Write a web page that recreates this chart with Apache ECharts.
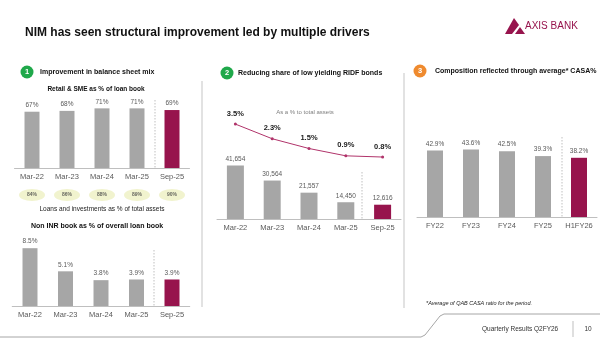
<!DOCTYPE html>
<html><head><meta charset="utf-8">
<script src="https://cdn.jsdelivr.net/npm/echarts@6/dist/echarts.min.js"></script>
<style>html,body{margin:0;padding:0;background:#fff}#c{width:600px;height:339px}</style>
</head><body><div id="c"></div>
<script>
// ---- data ----
const periods = ['Mar-22','Mar-23','Mar-24','Mar-25','Sep-25'];
const retailSme = [67, 68, 71, 71, 69];
const loansInvest = [84, 86, 88, 89, 90];
const nonInr = [8.5, 5.1, 3.8, 3.9, 3.9];
const ridfPct = [3.5, 2.3, 1.5, 0.9, 0.8];
const ridfAmt = [41654, 30564, 21557, 14450, 12616];
const casaCats = ['FY22','FY23','FY24','FY25','H1FY26'];
const casa = [42.9, 43.6, 42.5, 39.3, 38.2];

const GREY = '#a6a6a6', MAROON = '#97144d', FONT = 'Liberation Sans, Arial, sans-serif';
const lastHi = (arr) => arr.map((v, i) => ({value: v, itemStyle: {color: i === arr.length - 1 ? MAROON : GREY}}));

const chart = echarts.init(document.getElementById('c'), null, {renderer: 'canvas'});

function xAx(grid, cats, show) {
  return {type: 'category', gridIndex: grid, data: cats,
    axisLine: {show: show, lineStyle: {color: '#bfbfbf', width: 1}}, axisTick: {show: false},
    axisLabel: {show: show, color: '#595959', fontSize: 7.5, margin: 5, fontFamily: FONT}};
}
function yAx(grid, min, max) {
  return {type: 'value', gridIndex: grid, min: min, max: max, show: false, splitLine: {show: false}};
}
const barLabel = (fmt) => ({show: true, position: 'top', distance: 3, color: '#595959', fontSize: 6.5, fontFamily: FONT, formatter: fmt});
const txt = (x, y, text, font, fill, align) => ({type: 'text', x: x, y: y, style: {text: text, font: font + ' ' + FONT, fill: fill, align: align || 'left', verticalAlign: 'middle'}});
const dash = (x, y1, y2) => ({type: 'line', shape: {x1: x, y1: y1, x2: x, y2: y2}, style: {stroke: '#bfbfbf', lineWidth: 1, lineDash: [1.5, 1.5]}});

const option = {
  animation: false,
  textStyle: {fontFamily: FONT},
  grid: [
    {left: 14.5, top: 84, width: 175, height: 84},
    {left: 12.25, top: 238, width: 177.5, height: 68},
    {left: 217, top: 118, width: 184, height: 48.8},
    {left: 217, top: 149, width: 184, height: 70},
    {left: 417, top: 124, width: 180, height: 93},
    {left: 14.5, top: 189, width: 175, height: 12}
  ],
  xAxis: [
    xAx(0, periods, true), xAx(1, periods, true), xAx(2, periods, false),
    xAx(3, periods, true), xAx(4, casaCats, true), xAx(5, periods, false)
  ],
  yAxis: [
    yAx(0, 0, 100), yAx(1, 0, 10), yAx(2, 0, 4), yAx(3, 2000, 54000), yAx(4, 0, 60), yAx(5, 0, 1)
  ],
  series: [
    {type: 'bar', xAxisIndex: 0, yAxisIndex: 0, barWidth: 15, data: lastHi(retailSme), label: barLabel('{c}%')},
    {type: 'bar', xAxisIndex: 1, yAxisIndex: 1, barWidth: 15, data: lastHi(nonInr), label: barLabel(p => p.value.toFixed(1) + '%')},
    {type: 'line', xAxisIndex: 2, yAxisIndex: 2, data: ridfPct, symbol: 'circle', symbolSize: 3,
      lineStyle: {color: '#b0336a', width: 1}, itemStyle: {color: '#b0336a'},
      label: {show: true, position: 'top', distance: 5, color: '#1a1a1a', fontWeight: 'bold', fontSize: 7.5, formatter: p => p.value.toFixed(1) + '%'}},
    {type: 'bar', xAxisIndex: 3, yAxisIndex: 3, barWidth: 17, data: lastHi(ridfAmt), label: barLabel(p => p.value.toLocaleString('en-US'))},
    {type: 'bar', xAxisIndex: 4, yAxisIndex: 4, barWidth: 16, data: lastHi(casa), label: barLabel(p => p.value.toFixed(1) + '%')},
    {type: 'scatter', xAxisIndex: 5, yAxisIndex: 5, symbol: 'circle', symbolSize: [26, 12],
      itemStyle: {color: '#eef0c2'},
      data: loansInvest.map((v, i) => ({value: [periods[i], 0.5], raw: v})),
      label: {show: true, position: 'inside', color: '#404040', fontSize: 5, fontWeight: 'bold', formatter: p => p.data.raw + '%'}}
  ],
  graphic: [
    txt(25, 33, 'NIM has seen structural improvement led by multiple drivers', 'bold 12px', '#111'),
    {type: 'polygon', shape: {points: [[505,34],[514,18],[519,25],[512,34]]}, style: {fill: MAROON}},
    {type: 'polygon', shape: {points: [[515,34],[520,27],[525,34]]}, style: {fill: MAROON}},
    txt(525, 26, 'AXIS BANK', '10px', MAROON),
    {type: 'line', shape: {x1: 202, y1: 81, x2: 202, y2: 307}, style: {stroke: '#d9d9d9', lineWidth: 1.5}},
    {type: 'line', shape: {x1: 404, y1: 73, x2: 404, y2: 308}, style: {stroke: '#d9d9d9', lineWidth: 1.5}},
    {type: 'circle', shape: {cx: 27, cy: 72, r: 6.5}, style: {fill: '#1fa84a'}},
    txt(27, 72, '1', 'bold 7.5px', '#fff', 'center'),
    txt(40, 72, 'Improvement in balance sheet mix', 'bold 7px', '#111'),
    {type: 'circle', shape: {cx: 227, cy: 73, r: 6.5}, style: {fill: '#1fa84a'}},
    txt(227, 73, '2', 'bold 7.5px', '#fff', 'center'),
    txt(238, 73, 'Reducing share of low yielding RIDF bonds', 'bold 7px', '#111'),
    {type: 'circle', shape: {cx: 420, cy: 71, r: 6.5}, style: {fill: '#ef8a2e'}},
    txt(420, 71, '3', 'bold 7.5px', '#fff', 'center'),
    txt(435, 71, 'Composition reflected through average* CASA%', 'bold 7px', '#111'),
    txt(96, 89, 'Retail & SME as % of loan book', 'bold 6.5px', '#111', 'center'),
    txt(102, 209, 'Loans and investments as % of total assets', '6.5px', '#222', 'center'),
    txt(97, 226, 'Non INR book as % of overall loan book', 'bold 7px', '#111', 'center'),
    txt(305, 112, 'As a % to total assets', '6px', '#7f7f7f', 'center'),
    txt(426, 303, '*Average of QAB CASA ratio for the period.', 'italic 5.5px', '#222'),
    dash(155, 100, 168), dash(154, 250, 306), dash(362, 172, 219), dash(562, 137, 217),
    {type: 'polyline', shape: {points: [[0,337],[421,337],[425,335],[440,316],[444,314],[600,314]]}, style: {stroke: '#a6a6a6', lineWidth: 1, fill: null}},
    txt(482, 329, 'Quarterly Results Q2FY26', '6.5px', '#333'),
    {type: 'line', shape: {x1: 573, y1: 321, x2: 573, y2: 337}, style: {stroke: '#bfbfbf', lineWidth: 1}},
    txt(588, 329, '10', '6.5px', '#333', 'center')
  ]
};
chart.setOption(option);
</script></body></html>
